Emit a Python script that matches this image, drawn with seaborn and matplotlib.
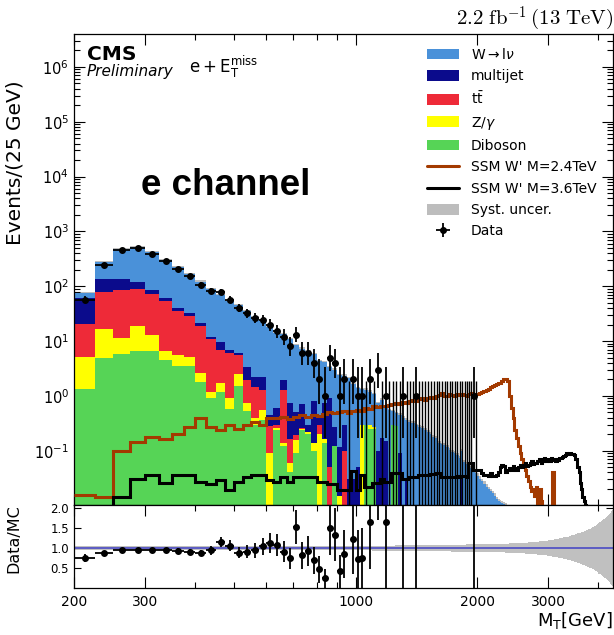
import numpy as np
import pandas as pd
import matplotlib
matplotlib.use('Agg')
import matplotlib.pyplot as plt
import seaborn as sns
from matplotlib.patches import Patch
from matplotlib.lines import Line2D
from matplotlib.ticker import FixedLocator, FixedFormatter, NullFormatter, LogFormatterSciNotation

# Data (25 GeV bins from 200 GeV)
bin_lo, bin_hi, bin_w = 200, 4400, 25

w_lnu = [14, 147, 347, 403, 330, 242, 183, 137,
         101, 75.9, 59.2, 47.1, 39, 31.7, 25.2, 20.8,
         17.25, 13.3, 11.24, 10.07, 7.98, 6.6, 6.2, 5.0,
         3.9, 3.35, 2.4, 2.73, 2.28, 2.05, 2.07, 1.6,
         1.32, 1.03, 1.0, 0.9, 0.8, 0.64, 0.68, 0.45,
         0.55, 0.22, 0.2, 0.36, 0.40, 0.34, 0.34, 0.32,
         0.29, 0.27, 0.26, 0.24, 0.22, 0.2, 0.18, 0.17,
         0.14, 0.13, 0.125, 0.115, 0.105, 0.096, 0.09, 0.082,
         0.075, 0.068, 0.063, 0.058, 0.052, 0.048, 0.042, 0.039,
         0.035, 0.031, 0.028, 0.025, 0.022, 0.02, 0.018, 0.017,
         0.015, 0.013, 0.012, 0.0115, 0.011, 0.0105, 0.0098, 0.009,
         0.0085, 0.008, 0.0075, 0.007, 0.0065, 0.006, 0.0055, 0.005] + [0.0] * 72
multijet = [42, 55, 48, 30, 13, 8, 5, 3,
            2.5, 1.3, 2.9, 0.9, 0.5, 1.34, 0.72, 0.91,
            0.17, 0.3, 0.67, 0.57, 0.32, 0.44, 0.08, 0.66,
            0.1, 0.59, 0.85, 0.15, 0.1, 0.2, 0.03, 0.03,
            0.05, 0, 0, 0, 0, 0.1, 0.17, 0.15,
            0, 0, 0, 0.09, 0, 0.03, 0, 0] + [0.0] * 17 + [0.03] + [0.0] * 102
ttbar = [15, 63, 75, 69, 60, 46.5, 29.4, 23.8,
         15.8, 9.6, 5.15, 5.1, 3.0, 1.23, 1.09, 0.74,
         0.19, 0.04, 1.15, 0.1, 0.04, 0.01, 0.0, 0.0,
         0.1, 0.0, 0.05, 0.0, 0.0, 0.1, 0.0, 0.0] + [0.0] * 136
zgamma = [3.8, 12, 5.6, 12.4, 6.5, 2.0, 2.1, 1.7,
          0.84, 0.3, 0.55, 0.32, 1.0, 0.21, 0.09, 0.185,
          0.085, 0.02, 0.02, 0.02, 0.067, 0.01, 0.02, 0.04,
          0.2, 0.02, 0.0, 0.0, 0.015, 0.0, 0.0, 0.0,
          0, 0.3, 0, 0.05, 0.02, 0, 0, 0] + [0.0] * 128
diboson = [1.33, 4.9, 5.9, 6.6, 6.5, 4.5, 3.5, 3.5,
           1.82, 0.9, 1.2, 0.58, 1.5, 0.52, 0.3, 0.365,
           0.005, 0.24, 0.12, 0.04, 0.09, 0.24, 0.2, 0.1,
           0.0, 0.14, 0.0, 0.12, 0.0, 0.0, 0.0, 0.0,
           0, 0, 0.3, 0.25, 0.25, 0, 0, 0,
           0, 0.3, 0.28, 0, 0, 0, 0, 0] + [0.0] * 120

wp_24 = [0.0155, 0.0141, 0.099, 0.146, 0.18, 0.165, 0.2, 0.275,
         0.39, 0.275, 0.24, 0.3, 0.25, 0.3, 0.34, 0.3,
         0.4, 0.39, 0.42, 0.38, 0.42, 0.45, 0.42, 0.45,
         0.43, 0.47, 0.5, 0.48, 0.5, 0.52, 0.48, 0.52,
         0.55, 0.53, 0.6, 0.58, 0.64, 0.62, 0.66, 0.64,
         0.68, 0.7, 0.73, 0.7, 0.76, 0.74, 0.8, 0.85,
         0.82, 0.88, 0.9, 0.85, 0.92, 0.95, 0.9, 0.98,
         1.05, 1.12, 0.98, 1.0, 1.08, 1.05, 1.0, 1.1,
         1.05, 1.08, 1.04, 1.0, 1.1, 1.12, 1.08, 1.1,
         1.1, 1.12, 1.2, 1.25, 1.3, 1.35, 1.45, 1.5,
         1.55, 1.65, 1.75, 1.7, 1.9, 2.0, 2.02, 1.85,
         1.0, 0.6, 0.4, 0.24, 0.17, 0.12, 0.09, 0.07,
         0.055, 0.045, 0.035, 0.028, 0.022, 0.018, 0.02, 0.015,
         0.022, 0.0, 0.02, 0.012, 0, 0, 0, 0,
         0, 0, 0, 0.041, 0, 0, 0, 0] + [0.0] * 48
wp_36 = [0.0, 0.0, 0.0145, 0.031, 0.036, 0.026, 0.036, 0.036,
         0.027, 0.025, 0.029, 0.019, 0.027, 0.033, 0.036, 0.036,
         0.029, 0.027, 0.033, 0.027, 0.033, 0.033, 0.033, 0.033,
         0.027, 0.027, 0.025, 0.025, 0.019, 0.019, 0.019, 0.042,
         0.019, 0.036, 0.022, 0.022, 0.026, 0.026, 0.031, 0.027,
         0.027, 0.039, 0.039, 0.039, 0.031, 0.031, 0.033, 0.033,
         0.033, 0.036, 0.036, 0.036, 0.036, 0.037, 0.037, 0.039,
         0.039, 0.033, 0.033, 0.033, 0.033, 0.033, 0.033, 0.034,
         0.033, 0.034, 0.034, 0.033, 0.059, 0.059, 0.045, 0.045,
         0.045, 0.045, 0.039, 0.036, 0.036, 0.034, 0.039, 0.034,
         0.034, 0.036, 0.041, 0.05, 0.055, 0.052, 0.041, 0.045,
         0.048, 0.045, 0.052, 0.048, 0.044, 0.05, 0.055, 0.05,
         0.055, 0.06, 0.052, 0.055, 0.059, 0.065, 0.057, 0.06,
         0.059, 0.064, 0.07, 0.06, 0.066, 0.072, 0.066, 0.07,
         0.068, 0.065, 0.072, 0.068, 0.07, 0.066, 0.07, 0.068,
         0.072, 0.075, 0.078, 0.08, 0.085, 0.09, 0.088, 0.092,
         0.09, 0.086, 0.088, 0.085, 0.07, 0.07, 0.05, 0.04,
         0.026, 0.02, 0.0145, 0.012, 0.01, 0.0, 0.0, 0.0] + [0.0] * 24

syst = [0.045, 0.045, 0.045, 0.045, 0.045, 0.045, 0.045, 0.045,
        0.045, 0.045, 0.045, 0.045, 0.048, 0.048, 0.048, 0.048,
        0.05, 0.05, 0.05, 0.05, 0.05, 0.05, 0.05, 0.05,
        0.052, 0.052, 0.053, 0.053, 0.054, 0.054, 0.055, 0.055,
        0.056, 0.057, 0.058, 0.059, 0.06, 0.061, 0.062, 0.063,
        0.064, 0.065, 0.066, 0.067, 0.068, 0.069, 0.07, 0.071,
        0.072, 0.073, 0.074, 0.075, 0.076, 0.077, 0.078, 0.079,
        0.08, 0.081, 0.082, 0.083, 0.084, 0.085, 0.086, 0.087,
        0.088, 0.089, 0.09, 0.091, 0.092, 0.093, 0.094, 0.095,
        0.096, 0.097, 0.098, 0.099, 0.1, 0.101, 0.102, 0.103,
        0.104, 0.105, 0.106, 0.107, 0.108, 0.11, 0.112, 0.114,
        0.116, 0.118, 0.12, 0.122, 0.124, 0.126, 0.128, 0.13,
        0.133, 0.136, 0.139, 0.142, 0.145, 0.148, 0.151, 0.155,
        0.159, 0.163, 0.167, 0.171, 0.175, 0.18, 0.185, 0.19,
        0.195, 0.2, 0.206, 0.212, 0.218, 0.224, 0.23, 0.237,
        0.244, 0.251, 0.258, 0.266, 0.274, 0.282, 0.29, 0.299,
        0.308, 0.317, 0.327, 0.337, 0.347, 0.357, 0.368, 0.379,
        0.39, 0.402, 0.414, 0.426, 0.438, 0.451, 0.464, 0.477,
        0.49, 0.504, 0.518, 0.532, 0.547, 0.562, 0.577, 0.593,
        0.64, 0.66, 0.68, 0.7, 0.72, 0.74, 0.76, 0.78,
        0.8, 0.83, 0.86, 0.89, 0.92, 0.95, 0.98, 1.01]

# observed events, 200-2000 GeV
data = [57, 248, 453, 500, 395, 285, 207, 152,
        107, 83, 79, 57, 40, 32, 26, 24,
        20, 15, 12, 8, 13, 6, 6, 4,
        2, 1, 5, 4, 1, 2, 0, 2,
        1, 1, 0, 2, 0, 3, 0, 1,
        0, 0, 0, 0, 1, 0, 0, 0,
        1, 0, 0, 0, 0, 0, 0, 0,
        0, 0, 0, 0, 0, 0, 0, 0,
        0, 0, 0, 0, 0, 0, 1, 0]

procs = ['W', 'multijet', 'tt', 'Z', 'Diboson']
labels = [r'W$\rightarrow$l$\nu$', 'multijet', r'$\mathrm{t\bar{t}}$', r'Z/$\gamma$', 'Diboson']
colors = ['#4a91d9', '#0b0b8c', '#ee2a38', '#ffff00', '#56d456']

edges = np.arange(bin_lo, bin_hi + 1, bin_w)
centers = 0.5 * (edges[:-1] + edges[1:])
nb = len(centers)

df = pd.DataFrame({'mt': np.tile(centers, len(procs)),
                   'w': np.concatenate([w_lnu, multijet, ttbar, zgamma, diboson]),
                   'proc': np.repeat(procs, nb)})
total = np.array(w_lnu) + np.array(multijet) + np.array(ttbar) + np.array(zgamma) + np.array(diboson)
syst = np.array(syst)

sns.set_style('ticks')
plt.rcParams['font.family'] = ['DejaVu Sans']
plt.rcParams['mathtext.fontset'] = 'dejavusans'
for key in ('text.color', 'axes.labelcolor', 'xtick.color', 'ytick.color'):
    plt.rcParams[key] = 'black'

fig = plt.figure(figsize=(6.14, 6.35), dpi=100)
ax = fig.add_axes([0.1205, 0.2047, 0.8779, 0.7418])
axr = fig.add_axes([0.1205, 0.0740, 0.8779, 0.1307], sharex=ax)

# syst band under the stack
ax.stairs(total * (1 + syst), edges, baseline=total * (1 - syst), fill=True,
          color='#bdbdbd', zorder=0.5)

sns.histplot(data=df, x='mt', weights='w', hue='proc', hue_order=procs,
             palette=dict(zip(procs, colors)), binwidth=bin_w, binrange=(bin_lo, bin_hi),
             multiple='stack', element='step', fill=True, alpha=1, linewidth=0,
             legend=False, ax=ax)

ax.stairs(wp_24, edges, baseline=None, color='#a33a00', lw=2.2, zorder=3)
ax.stairs(wp_36, edges, baseline=None, color='black', lw=2.2, zorder=3)

# data with Poisson errors
nd = len(data)
n = np.array(data, float)
c = centers[:nd]
has = n > 0
nn = np.where(has, n, 1)
lo = n - n * (1 - 1 / (9 * nn) - 1 / (3 * np.sqrt(nn))) ** 3
up = np.sqrt(n + 0.75) + 1
ax.vlines(c[~has], 1e-3, up[~has], color='black', lw=1.0, zorder=4)
dh = ax.errorbar(c[has], n[has], xerr=bin_w / 2, yerr=[lo[has], up[has]], fmt='o',
                 ms=4, color='black', elinewidth=1.3, capsize=0, zorder=5)

ax.set_xscale('log')
ax.set_yscale('log')
ax.set_xlim(200, 4350)
ax.set_ylim(1.02e-2, 4e6)
decades = [10.0 ** k for k in range(-1, 7)]
ax.yaxis.set_major_locator(FixedLocator(decades))
ax.yaxis.set_major_formatter(LogFormatterSciNotation())
ax.yaxis.set_minor_locator(FixedLocator([m * 10.0 ** k for k in range(-2, 7)
                                         for m in range(2, 10) if m * 10.0 ** k < 4e6]))
ax.yaxis.set_minor_formatter(NullFormatter())
ax.set_xlabel('')
ax.set_ylabel('Events/(25 GeV)', fontsize=14.5)
ax.yaxis.set_label_coords(-0.092, 0.726)

# ratio panel
ratio = np.where(has, n / total[:nd], np.nan)
rerr = np.where(has, np.sqrt(n) / total[:nd], np.nan)
axr.stairs(1 + syst, edges, baseline=1 - syst, fill=True, color='#c0c0c0', zorder=1)
axr.axhline(1.0, color='#4b4bc4', lw=1.2, zorder=2)
axr.errorbar(c[has], ratio[has], xerr=bin_w / 2, yerr=rerr[has], fmt='o', ms=4,
             color='black', elinewidth=1.3, capsize=0, zorder=5)
axr.set_ylim(0, 2.08)
axr.set_yticks([0.5, 1.0, 1.5, 2.0])
axr.set_yticklabels(['0.5', '1.0', '1.5', '2.0'], fontsize=8.5)
axr.set_ylabel('Data/MC', fontsize=11.5)
axr.yaxis.set_label_coords(-0.098, 0.6)

major_x = [200, 300, 1000, 2000, 3000]
minor_x = [400, 500, 600, 700, 800, 900, 4000]
for a in (ax, axr):
    a.xaxis.set_major_locator(FixedLocator(major_x))
    a.xaxis.set_minor_locator(FixedLocator(minor_x))
    a.xaxis.set_minor_formatter(NullFormatter())
    a.tick_params(which='both', direction='in', top=True, right=True)
    a.tick_params(which='major', length=8, width=0.8)
    a.tick_params(which='minor', length=4, width=0.8)
    for sp in a.spines.values():
        sp.set_color('black')
        sp.set_linewidth(0.9)
axr.xaxis.set_major_formatter(FixedFormatter([str(v) for v in major_x]))
axr.tick_params(axis='x', labelsize=10, pad=5)
ax.tick_params(axis='x', labelbottom=False)
ax.tick_params(axis='y', labelsize=10.5)
axr.tick_params(axis='y', which='major', length=5)
axr.set_xlabel(r'$\mathrm{M_T[GeV]}$', fontsize=13, loc='right')
axr.xaxis.set_label_coords(1.0, -0.27)

# texts
ax.text(0.024, 0.977, 'CMS', transform=ax.transAxes, fontsize=14.5,
        fontweight='bold', va='top', ha='left')
ax.text(0.024, 0.936, 'Preliminary', transform=ax.transAxes, fontsize=11,
        style='italic', va='top', ha='left')
ax.text(0.213, 0.93, r'$\mathrm{e+E_T^{miss}}$', transform=ax.transAxes,
        fontsize=12, va='center', ha='left')
ax.text(0.124, 0.658, 'e channel', transform=ax.transAxes, fontsize=26.5,
        fontweight='bold', family='Liberation Sans', va='baseline', ha='left')
ax.text(1.0, 1.019, r'$2.2\ \mathrm{fb}^{-1}\,(13\ \mathrm{TeV})$', transform=ax.transAxes,
        fontsize=15, va='baseline', ha='right', math_fontfamily='cm')

# legend
handles = [Patch(facecolor=col, edgecolor='none') for col in colors]
handles += [Line2D([], [], color='#a33a00', lw=2.2), Line2D([], [], color='black', lw=2.2),
            Patch(facecolor='#bdbdbd', edgecolor='none'), dh]
leg_labels = labels + ["SSM W' M=2.4TeV", "SSM W' M=3.6TeV", 'Syst. uncer.', 'Data']
ax.legend(handles, leg_labels, loc='upper left', bbox_to_anchor=(0.655, 0.973),
          frameon=False, fontsize=10, handlelength=2.3, handleheight=0.8,
          handletextpad=0.85, labelspacing=0.53, borderpad=0, borderaxespad=0)

fig.savefig('out.png', dpi=100)
